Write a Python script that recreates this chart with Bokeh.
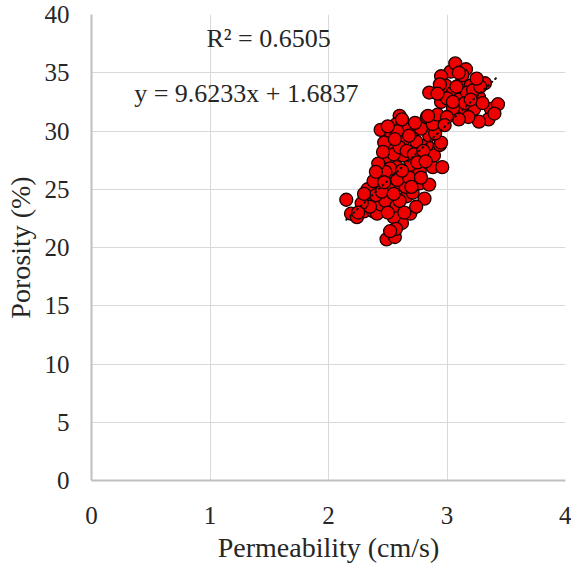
from bokeh.plotting import figure
from bokeh.models import ColumnDataSource, Range1d, FixedTicker
from bokeh.core.properties import value
from bokeh.embed import file_html
from bokeh.resources import INLINE

# Permeability (cm/s)
permeability = [
    2.15, 2.19, 2.24, 2.30, 2.34, 2.35, 2.33, 2.38, 2.41, 2.44,
    2.48, 2.51, 2.44, 2.45, 2.38, 2.49, 2.56, 2.62, 2.55, 2.575,
    2.69, 2.66, 2.71, 2.81, 2.60, 2.71, 2.77, 2.55, 2.77, 2.88,
    2.96, 2.89, 2.94, 2.83, 2.74, 2.63, 2.52, 2.49, 2.44, 2.53,
    2.60, 2.575, 2.70, 2.83, 2.69, 2.575, 2.63, 2.77, 2.85, 2.95,
    2.40, 2.45, 2.50, 2.60, 2.65, 2.58, 2.52, 2.48, 2.42, 2.47,
    2.55, 2.60, 2.66, 2.72, 2.80, 2.85, 2.78, 2.65, 2.58, 2.50,
    2.75, 2.68, 2.62, 2.82, 2.90, 2.88, 2.92, 2.40, 2.35, 2.28,
    2.25, 2.30, 2.57, 2.52, 2.64, 2.74, 2.78, 2.70, 2.55, 2.47,
    2.46, 2.56, 2.68, 2.73, 2.62,
    3.03, 3.07, 3.16, 2.95, 3.12, 3.32, 3.20, 2.99, 3.05, 2.85,
    2.95, 3.10, 3.23, 3.37, 3.43, 3.35, 3.13, 2.84, 3.27, 3.05,
    3.17, 3.27, 2.94, 3.00, 3.08, 3.15, 3.22, 3.28, 3.30, 3.18,
    3.10, 3.00, 2.92, 3.25, 3.13, 3.40, 3.05, 2.98, 3.20, 3.10,
]
# Porosity (%)
porosity = [
    24.1, 22.9, 22.6, 23.1, 24.0, 24.3, 25.0, 23.1, 22.9, 23.7,
    24.0, 25.0, 26.1, 25.3, 25.7, 20.7, 20.9, 22.1, 22.6, 23.6,
    22.9, 24.4, 24.7, 24.2, 25.5, 26.4, 25.5, 26.2, 26.5, 26.9,
    26.9, 27.9, 28.8, 28.8, 29.1, 29.2, 28.6, 27.8, 30.1, 29.8,
    31.3, 30.6, 29.9, 31.2, 27.1, 26.9, 27.9, 27.9, 25.4, 29.0,
    24.5, 24.8, 23.0, 24.0, 25.2, 25.8, 26.8, 26.5, 27.2, 29.0,
    28.0, 28.6, 28.3, 28.0, 28.3, 29.6, 30.2, 30.4, 30.0, 30.4,
    27.3, 26.0, 26.6, 27.4, 29.8, 30.6, 31.4, 26.5, 23.5, 23.8,
    23.0, 24.6, 21.6, 21.4, 23.0, 23.5, 26.0, 25.2, 24.6, 25.6,
    28.2, 29.3, 29.6, 30.7, 31.0,
    35.1, 35.8, 35.3, 34.7, 34.1, 34.1, 33.9, 33.9, 33.3, 33.3,
    32.5, 32.7, 31.9, 31.9, 32.3, 31.0, 31.6, 31.3, 30.8, 31.9,
    33.3, 32.9, 34.0, 32.8, 33.8, 32.4, 33.5, 33.8, 32.4, 31.2,
    31.0, 31.2, 33.2, 34.5, 34.8, 31.5, 32.5, 30.5, 32.7, 35.0,
]

# Linear trendline (from chart annotation)
slope = 9.6233
intercept = 1.6837
r_squared = 0.6505

x_ticks = [0, 1, 2, 3, 4]
y_ticks = [0, 5, 10, 15, 20, 25, 30, 35, 40]

FONT = "Liberation Serif"

p = figure(
    frame_width=474, frame_height=466,
    min_border_left=91, min_border_right=6, min_border_top=14, min_border_bottom=86,
    x_range=Range1d(0, 4), y_range=Range1d(0, 40),
    output_backend="svg", toolbar_location=None,
)
p.outline_line_color = None
p.background_fill_color = "white"

for ax in (p.xaxis[0], p.yaxis[0]):
    ax.axis_line_color = "#bfbfbf"
    ax.axis_line_width = 2
    ax.major_tick_line_color = None
    ax.minor_tick_line_color = None
    ax.major_label_text_font = FONT
    ax.major_label_text_font_size = "25px"
    ax.major_label_text_color = "#262626"
    ax.axis_label_text_font = FONT
    ax.axis_label_text_font_size = "28px"
    ax.axis_label_text_font_style = "normal"
    ax.axis_label_text_color = "#262626"

p.xaxis.ticker = FixedTicker(ticks=x_ticks)
p.yaxis.ticker = FixedTicker(ticks=y_ticks)
p.xaxis.axis_label = "Permeability (cm/s)"
p.yaxis.axis_label = "Porosity (%)"
p.xaxis.major_label_standoff = 20
p.yaxis.major_label_standoff = 16
p.xaxis.axis_label_standoff = 5
p.yaxis.axis_label_standoff = 6

p.xgrid.ticker = FixedTicker(ticks=x_ticks)
p.ygrid.ticker = FixedTicker(ticks=y_ticks)
p.grid.grid_line_color = "#d9d9d9"
p.grid.grid_line_width = 1

src = ColumnDataSource(dict(x=permeability, y=porosity))
p.scatter("x", "y", source=src, size=13, fill_color="#ee0000",
          line_color="#1a0000", line_width=1.3)

x0, x1 = min(permeability), max(permeability)
p.line([x0, x1], [slope * x0 + intercept, slope * x1 + intercept],
       line_color="#111111", line_width=2, line_dash="1 4", line_cap="round")

p.text(x=[0.97], y=[37.95], text=[f"R\u00b2 = {r_squared}"],
       text_font=value(FONT), text_font_size="26px", text_color="#262626",
       text_align="left", text_baseline="alphabetic")
p.text(x=[0.36], y=[33.25], text=[f"y = {slope}x + {intercept}"],
       text_font=value(FONT), text_font_size="26px", text_color="#262626",
       text_align="left", text_baseline="alphabetic")

open("out.html", "w").write(file_html(p, INLINE))
